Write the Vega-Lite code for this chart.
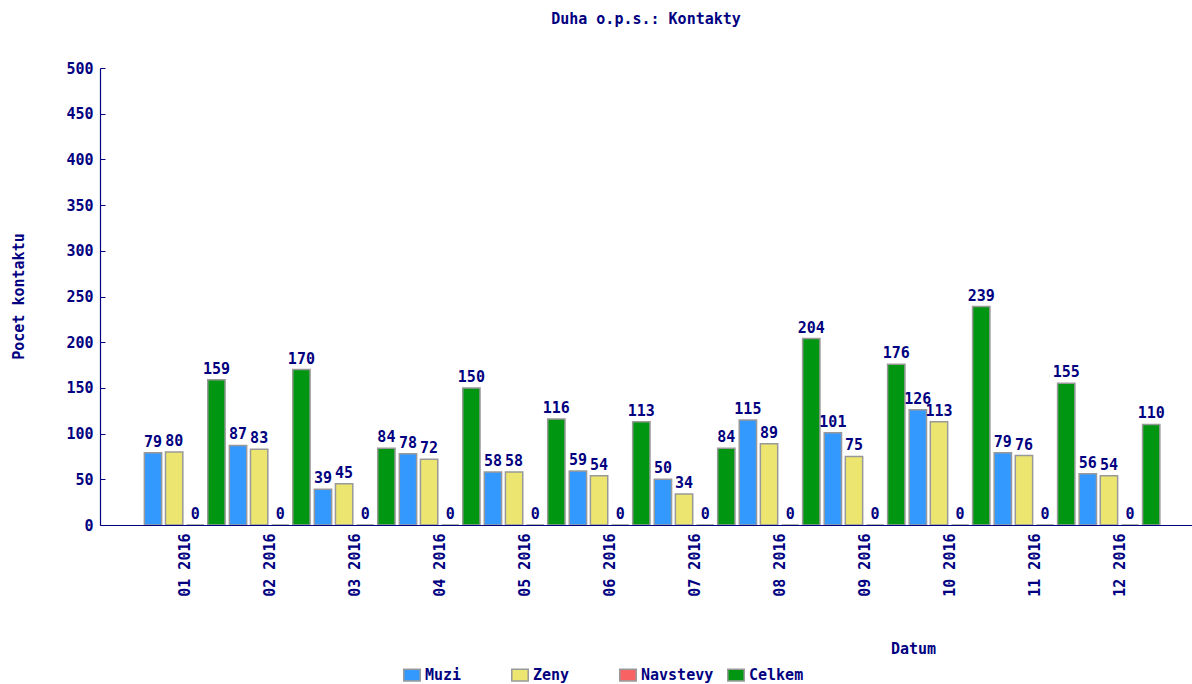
{
  "$schema": "https://vega.github.io/schema/vega-lite/v6.json",
  "width": 1092,
  "height": 457,
  "autosize": {"type": "none"},
  "padding": {"left": 100, "top": 68, "right": 0, "bottom": 159},
  "background": "white",
  "title": {
    "text": "Duha o.p.s.: Kontakty",
    "anchor": "middle",
    "frame": "group",
    "offset": 34,
    "font": "DejaVu Sans Mono",
    "fontSize": 15,
    "fontWeight": "bold",
    "color": "#000080"
  },
  "config": {
    "view": {"stroke": null},
    "legend": {"padding": 0}
  },
  "data": {
    "values": [
      {"month": "01 2016", "series": "Muzi", "value": 79},
      {"month": "01 2016", "series": "Zeny", "value": 80},
      {"month": "01 2016", "series": "Navstevy", "value": 0},
      {"month": "01 2016", "series": "Celkem", "value": 159},
      {"month": "02 2016", "series": "Muzi", "value": 87},
      {"month": "02 2016", "series": "Zeny", "value": 83},
      {"month": "02 2016", "series": "Navstevy", "value": 0},
      {"month": "02 2016", "series": "Celkem", "value": 170},
      {"month": "03 2016", "series": "Muzi", "value": 39},
      {"month": "03 2016", "series": "Zeny", "value": 45},
      {"month": "03 2016", "series": "Navstevy", "value": 0},
      {"month": "03 2016", "series": "Celkem", "value": 84},
      {"month": "04 2016", "series": "Muzi", "value": 78},
      {"month": "04 2016", "series": "Zeny", "value": 72},
      {"month": "04 2016", "series": "Navstevy", "value": 0},
      {"month": "04 2016", "series": "Celkem", "value": 150},
      {"month": "05 2016", "series": "Muzi", "value": 58},
      {"month": "05 2016", "series": "Zeny", "value": 58},
      {"month": "05 2016", "series": "Navstevy", "value": 0},
      {"month": "05 2016", "series": "Celkem", "value": 116},
      {"month": "06 2016", "series": "Muzi", "value": 59},
      {"month": "06 2016", "series": "Zeny", "value": 54},
      {"month": "06 2016", "series": "Navstevy", "value": 0},
      {"month": "06 2016", "series": "Celkem", "value": 113},
      {"month": "07 2016", "series": "Muzi", "value": 50},
      {"month": "07 2016", "series": "Zeny", "value": 34},
      {"month": "07 2016", "series": "Navstevy", "value": 0},
      {"month": "07 2016", "series": "Celkem", "value": 84},
      {"month": "08 2016", "series": "Muzi", "value": 115},
      {"month": "08 2016", "series": "Zeny", "value": 89},
      {"month": "08 2016", "series": "Navstevy", "value": 0},
      {"month": "08 2016", "series": "Celkem", "value": 204},
      {"month": "09 2016", "series": "Muzi", "value": 101},
      {"month": "09 2016", "series": "Zeny", "value": 75},
      {"month": "09 2016", "series": "Navstevy", "value": 0},
      {"month": "09 2016", "series": "Celkem", "value": 176},
      {"month": "10 2016", "series": "Muzi", "value": 126},
      {"month": "10 2016", "series": "Zeny", "value": 113},
      {"month": "10 2016", "series": "Navstevy", "value": 0},
      {"month": "10 2016", "series": "Celkem", "value": 239},
      {"month": "11 2016", "series": "Muzi", "value": 79},
      {"month": "11 2016", "series": "Zeny", "value": 76},
      {"month": "11 2016", "series": "Navstevy", "value": 0},
      {"month": "11 2016", "series": "Celkem", "value": 155},
      {"month": "12 2016", "series": "Muzi", "value": 56},
      {"month": "12 2016", "series": "Zeny", "value": 54},
      {"month": "12 2016", "series": "Navstevy", "value": 0},
      {"month": "12 2016", "series": "Celkem", "value": 110}
    ]
  },
  "encoding": {
    "x": {
      "field": "month",
      "type": "nominal",
      "sort": null,
      "scale": {"paddingInner": 0.05, "paddingOuter": 0.45, "align": 0.58},
      "axis": {
        "title": "Datum",
        "titleX": 813,
        "titleY": 123,
        "titleAlign": "center",
        "titleBaseline": "middle",
        "titleColor": "#000080",
        "titleFont": "DejaVu Sans Mono",
        "titleFontSize": 15,
        "titleFontWeight": "bold",
        "labelAngle": 270,
        "labelAlign": "right",
        "labelBaseline": "middle",
        "labelPadding": 8,
        "labelColor": "#000080",
        "labelFont": "DejaVu Sans Mono",
        "labelFontSize": 15,
        "labelFontWeight": "bold",
        "ticks": false,
        "domainColor": "#000080",
        "domainWidth": 1.2,
        "zindex": 1
      }
    },
    "xOffset": {
      "field": "series",
      "type": "nominal",
      "sort": ["Muzi", "Zeny", "Navstevy", "Celkem"],
      "scale": {"domain": ["Muzi", "Zeny", "Navstevy", "Celkem"], "paddingInner": 0.18, "paddingOuter": 0}
    },
    "y": {
      "field": "value",
      "type": "quantitative",
      "scale": {"domain": [0, 500], "nice": false},
      "axis": {
        "values": [0, 50, 100, 150, 200, 250, 300, 350, 400, 450, 500],
        "grid": false,
        "tickSize": -5,
        "tickColor": "#000080",
        "domainColor": "#000080",
        "domainWidth": 1.2,
        "labelPadding": 12,
        "labelColor": "#000080",
        "labelFont": "DejaVu Sans Mono",
        "labelFontSize": 15,
        "labelFontWeight": "bold",
        "title": "Pocet kontaktu",
        "titleX": -82,
        "titleY": 228,
        "titleAngle": 270,
        "titleAlign": "center",
        "titleBaseline": "middle",
        "titleColor": "#000080",
        "titleFont": "DejaVu Sans Mono",
        "titleFontSize": 15,
        "titleFontWeight": "bold",
        "zindex": 1
      }
    }
  },
  "layer": [
    {
      "mark": {"type": "bar", "stroke": "#999999", "strokeWidth": 1.5},
      "encoding": {
        "color": {
          "field": "series",
          "type": "nominal",
          "scale": {
            "domain": ["Muzi", "Zeny", "Navstevy", "Celkem"],
            "range": ["#3399ff", "#ece670", "#f86262", "#009611"]
          },
          "legend": {
            "title": null,
            "orient": "none",
            "legendX": 303,
            "legendY": 598,
            "direction": "horizontal",
            "columns": 4,
            "gridAlign": "all",
            "columnPadding": 10,
            "symbolType": "M-1,-0.7H1V0.7H-1Z",
            "symbolSize": 270,
            "symbolStrokeColor": "#999999",
            "symbolStrokeWidth": 1.5,
            "symbolOpacity": 1,
            "labelOffset": 4,
            "labelColor": "#000080",
            "labelFont": "DejaVu Sans Mono",
            "labelFontSize": 15,
            "labelFontWeight": "bold"
          }
        }
      }
    },
    {
      "mark": {
        "type": "text",
        "baseline": "alphabetic",
        "dy": -6,
        "font": "DejaVu Sans Mono",
        "fontSize": 15,
        "fontWeight": "bold",
        "color": "#000080"
      },
      "encoding": {"text": {"field": "value", "type": "quantitative"}}
    }
  ]
}
